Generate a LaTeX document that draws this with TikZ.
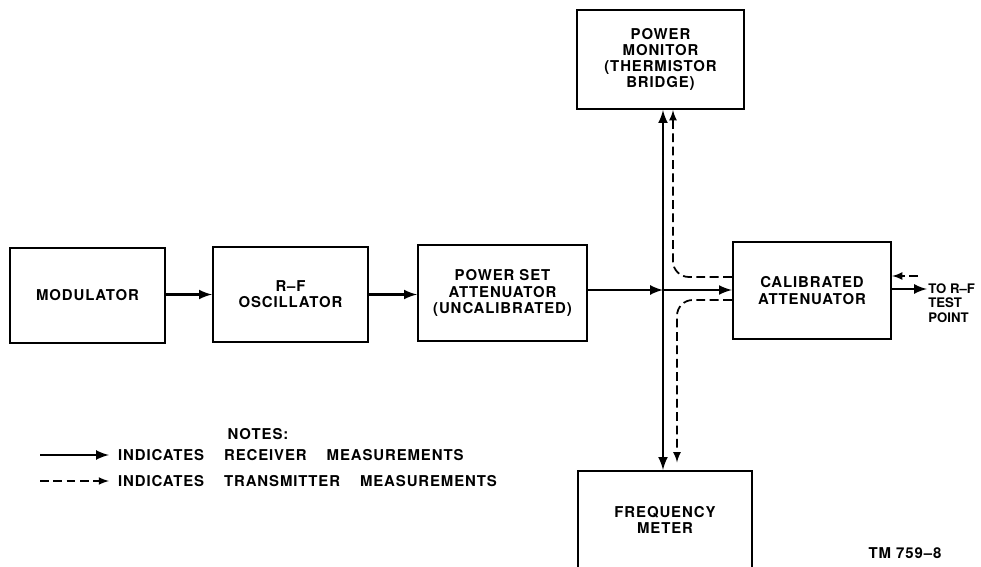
\documentclass[tikz,border=0pt]{standalone}
\usepackage{fontspec}
\setmainfont{TeX Gyre Heros}[LetterSpace=6]
\usetikzlibrary{positioning}

\begin{document}
\begin{tikzpicture}[x=0.02cm, y=-0.02cm, >=latex,
  every node/.style={font=\bfseries\fontsize{8.5}{9.2}\selectfont, align=center, inner sep=1pt},
  blk/.style={draw, line width=1.3pt, minimum width=3.1cm, minimum height=1.9cm},
  rcv/.style={line width=1.5pt},
  xmt/.style={line width=1pt, dash pattern=on 5pt off 2.6pt}]

\useasboundingbox (0,0) rectangle (981,567);

\node [blk] (mod)  at (87.5,295.5) {MODULATOR};
\node [blk] (osc)  at (290.5,294.5) {R--F\\OSCILLATOR};
\node [blk, minimum width=3.38cm, minimum height=1.92cm] (pset) at (502.5,293) {POWER SET\\ATTENUATOR\\(UNCALIBRATED)};
\node [blk, minimum width=3.34cm, minimum height=1.98cm] (pmon) at (660.5,59.5) {POWER\\MONITOR\\(THERMISTOR\\BRIDGE)};
\node [blk, minimum width=3.16cm, minimum height=1.94cm] (cal)  at (812,290.5) {CALIBRATED\\ATTENUATOR};
\node [blk, minimum width=3.48cm, minimum height=1.96cm] (freq) at (665,520) {FREQUENCY\\METER};

\coordinate (jn) at (663,290);
\coordinate (tx) at (673,277);
\coordinate (rx) at (677,300);
\coordinate (tp) at (927,289);
\coordinate (tq) at (918,276);

\begin{scope}[rcv, ->]
\draw (mod.east |- osc) -- (osc);
\draw (osc) -- (pset.west |- osc);
\draw (pset.east |- jn) -- (jn);
\draw (jn) -- (cal.west |- jn);
\draw [<->] (pmon.south -| jn) -- (freq.north -| jn);
\draw (cal.east |- tp) -- (tp);
\end{scope}

\begin{scope}[xmt, ->, rounded corners=9pt]
\draw (cal.west |- tx) -| (pmon.south -| tx);
\draw (cal.west |- rx) -| ([yshift=0.15cm]freq.north -| rx);
\draw (tq) -- (cal.east |- tq);
\end{scope}

\node [anchor=north west, align=left, inner sep=0pt, font=\bfseries\fontsize{7.5}{8.4}\selectfont\addfontfeature{LetterSpace=0}] (tptxt) at (928,283) {TO R--F\\TEST\\POINT};

% notes
\node (notes) at (258,434) {NOTES:};
\coordinate (l1) at (40,455);
\coordinate (l2) at (40,481);
\node [anchor=west] (n1) at (116,455) {INDICATES\quad\ RECEIVER\quad\ MEASUREMENTS};
\node [anchor=west] (n2) at (116,481) {INDICATES\quad\ TRANSMITTER\quad\ MEASUREMENTS};
\draw [rcv, ->] (l1) -- ([xshift=-4pt]n1.west);
\draw [xmt, ->] (l2) -- ([xshift=-4pt]n2.west);

\node (tm) at (905,553) {TM 759--8};

\end{tikzpicture}
\end{document}
